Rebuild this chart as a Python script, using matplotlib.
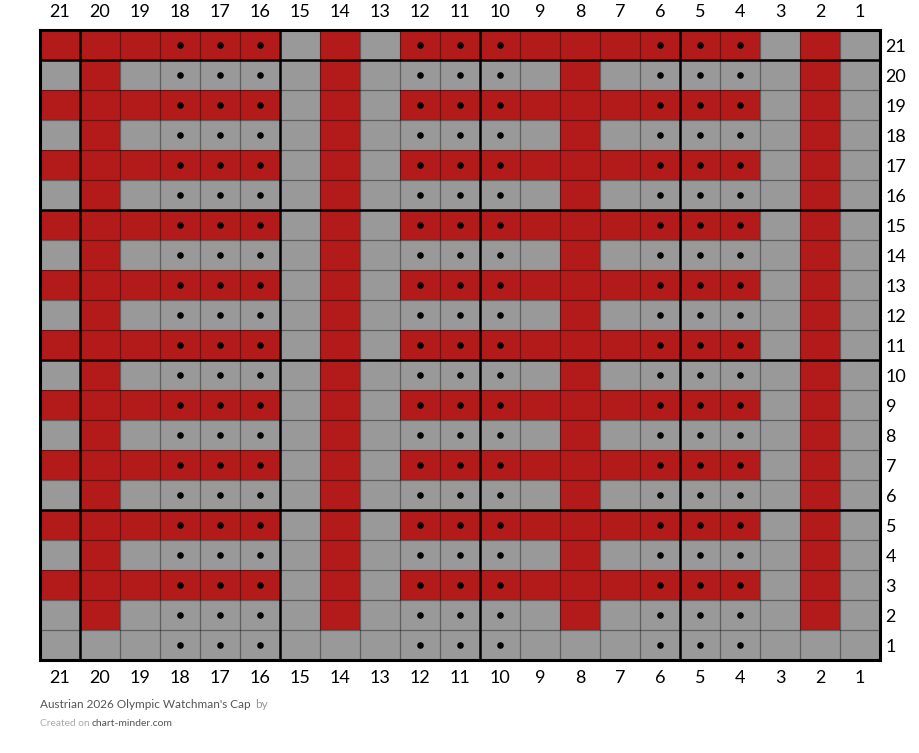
import matplotlib.pyplot as plt
import numpy as np
from matplotlib.colors import ListedColormap

# chart columns (left to right) and rows (top to bottom)
col_numbers = list(range(21, 0, -1))
row_numbers = list(range(21, 0, -1))

# R = red, G = gray ; one string per row, top row (21) first
pattern_rows = [
    "RRRRRRGRGRRRRRRRRRGRG",  # 21
    "GRGGGGGRGGGGGRGGGGGRG",  # 20
    "RRRRRRGRGRRRRRRRRRGRG",  # 19
    "GRGGGGGRGGGGGRGGGGGRG",  # 18
    "RRRRRRGRGRRRRRRRRRGRG",  # 17
    "GRGGGGGRGGGGGRGGGGGRG",  # 16
    "RRRRRRGRGRRRRRRRRRGRG",  # 15
    "GRGGGGGRGGGGGRGGGGGRG",  # 14
    "RRRRRRGRGRRRRRRRRRGRG",  # 13
    "GRGGGGGRGGGGGRGGGGGRG",  # 12
    "RRRRRRGRGRRRRRRRRRGRG",  # 11
    "GRGGGGGRGGGGGRGGGGGRG",  # 10
    "RRRRRRGRGRRRRRRRRRGRG",  # 9
    "GRGGGGGRGGGGGRGGGGGRG",  # 8
    "RRRRRRGRGRRRRRRRRRGRG",  # 7
    "GRGGGGGRGGGGGRGGGGGRG",  # 6
    "RRRRRRGRGRRRRRRRRRGRG",  # 5
    "GRGGGGGRGGGGGRGGGGGRG",  # 4
    "RRRRRRGRGRRRRRRRRRGRG",  # 3
    "GRGGGGGRGGGGGRGGGGGRG",  # 2
    "GGGGGGGGGGGGGGGGGGGGG",  # 1
]

# columns with a purl dot on every row
purl_cols = [18, 17, 16, 12, 11, 10, 6, 5, 4]

red = "#b31b1b"
gray = "#999999"

plt.rcParams["font.family"] = ["Lato", "DejaVu Sans"]

n_cols = len(col_numbers)
n_rows = len(row_numbers)
grid = np.array([[1 if c == "R" else 0 for c in r] for r in pattern_rows])

fig = plt.figure(figsize=(9.2, 7.53), dpi=100)
ax = fig.add_axes([40 / 920, 93 / 753, 840 / 920, 630 / 753])

ax.pcolormesh(np.arange(n_cols + 1), np.arange(n_rows + 1), grid,
              cmap=ListedColormap([gray, red]), vmin=0, vmax=1)

# thin cell borders
for x in range(1, n_cols):
    ax.axvline(x, color="black", alpha=0.38, linewidth=0.9, zorder=2)
for y in range(1, n_rows):
    ax.axhline(y, color="black", alpha=0.38, linewidth=0.9, zorder=2)

# purl dots
dot_x = [col_numbers.index(c) + 0.5 for c in purl_cols for _ in row_numbers]
dot_y = [i + 0.5 for _ in purl_cols for i in range(n_rows)]
ax.scatter(dot_x, dot_y, s=14, color="black", zorder=3)

# thick lines every 5 stitches / rows, counted from bottom right
for c in col_numbers:
    if c % 5 == 0:
        ax.axvline(col_numbers.index(c), color="black", linewidth=1.8, zorder=4)
for r in row_numbers:
    if r % 5 == 0:
        ax.axhline(row_numbers.index(r), color="black", linewidth=1.8, zorder=4)

ax.set_xlim(0, n_cols)
ax.set_ylim(n_rows, 0)
for s in ax.spines.values():
    s.set_linewidth(2.2)
    s.set_zorder(5)

ax.set_xticks(np.arange(n_cols) + 0.5)
ax.set_xticklabels(col_numbers)
ax.set_yticks(np.arange(n_rows) + 0.5)
ax.set_yticklabels(row_numbers)
ax.tick_params(axis="x", top=True, labeltop=True, bottom=True, labelbottom=True,
               length=0, labelsize=13, pad=7)
ax.tick_params(axis="y", left=False, labelleft=False, right=True, labelright=True,
               length=0, labelsize=13, pad=4)

fig.text(40 / 920, 1 - 705 / 753, "Austrian 2026 Olympic Watchman's Cap",
         fontsize=8.5, color="#555555", va="center")
fig.text(255 / 920, 1 - 705 / 753, "by", fontsize=8.5, color="#999999", va="center")
fig.text(40 / 920, 1 - 723 / 753, "Created on", fontsize=7.3, color="#aaaaaa", va="center")
fig.text(92 / 920, 1 - 723 / 753, "chart-minder.com", fontsize=7.5, color="#555555", va="center")

fig.savefig("out.png", dpi=100)
